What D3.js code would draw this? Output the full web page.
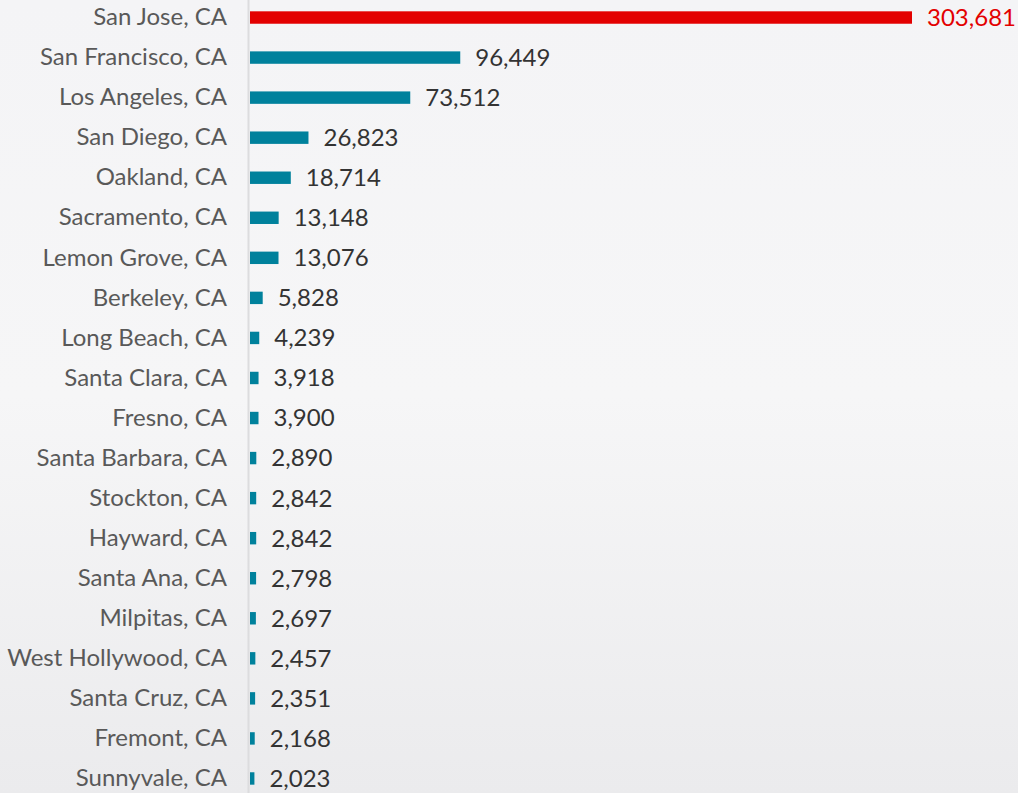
<!DOCTYPE html>
<html><head><meta charset="utf-8">
<script src="https://cdn.jsdelivr.net/npm/d3@7/dist/d3.min.js"></script>
<style>
html,body{margin:0;padding:0;overflow:hidden;}
body{width:1018px;height:793px;}
</style></head>
<body>
<script>
const cities = ["San Jose, CA","San Francisco, CA","Los Angeles, CA","San Diego, CA","Oakland, CA","Sacramento, CA","Lemon Grove, CA","Berkeley, CA","Long Beach, CA","Santa Clara, CA","Fresno, CA","Santa Barbara, CA","Stockton, CA","Hayward, CA","Santa Ana, CA","Milpitas, CA","West Hollywood, CA","Santa Cruz, CA","Fremont, CA","Sunnyvale, CA"];
const values = [303681,96449,73512,26823,18714,13148,13076,5828,4239,3918,3900,2890,2842,2842,2798,2697,2457,2351,2168,2023];
const highlight = ["San Jose, CA"];

const W = 1018, H = 793;
const svg = d3.select("body").append("svg").attr("width", W).attr("height", H);
const defs = svg.append("defs");
const grad = defs.append("linearGradient").attr("id","bg").attr("x1",0).attr("y1",0).attr("x2",0).attr("y2",1);
grad.append("stop").attr("offset","0%").attr("stop-color","#f4f4f6");
grad.append("stop").attr("offset","50%").attr("stop-color","#f6f6f7");
grad.append("stop").attr("offset","100%").attr("stop-color","#ebebed");
svg.append("rect").attr("width",W).attr("height",H).attr("fill","url(#bg)");

const data = cities.map((c,i)=>({city:c, value:values[i]}));
const y = d3.scaleBand().domain(cities).range([-2.5, 798.5]).paddingInner(0.69).paddingOuter(0.345);
const x = d3.scaleLinear().domain([0, d3.max(values)]).range([250, 912]);

// axis line
svg.append("line").attr("x1",248.5).attr("x2",248.5).attr("y1",0).attr("y2",H)
  .attr("stroke","#dcdcde").attr("stroke-width",2);

const yAxis = d3.axisLeft(y).tickSize(0).tickPadding(0);
const ga = svg.append("g").attr("transform","translate(227,0)").call(yAxis);
ga.select(".domain").remove();
ga.selectAll("text").attr("font-family","Lato, sans-serif").attr("font-size",24).attr("fill","#595959");

svg.selectAll("rect.bar").data(data).join("rect").attr("class","bar")
  .attr("x", x(0)).attr("y", d=>y(d.city)).attr("height", y.bandwidth())
  .attr("width", d=>x(d.value)-x(0))
  .attr("fill", d=> highlight.includes(d.city) ? "#e30000" : "#00819c");

const fmt = d3.format(",");
svg.selectAll("text.val").data(data).join("text").attr("class","val")
  .attr("x", d=>x(d.value)+15).attr("y", d=>y(d.city)+y.bandwidth()/2)
  .attr("dy","0.35em")
  .attr("font-family","Lato, sans-serif").attr("font-size",24)
  .attr("fill", d=> highlight.includes(d.city) ? "#e30000" : "#333333")
  .text(d=>fmt(d.value));
</script>
</body></html>
